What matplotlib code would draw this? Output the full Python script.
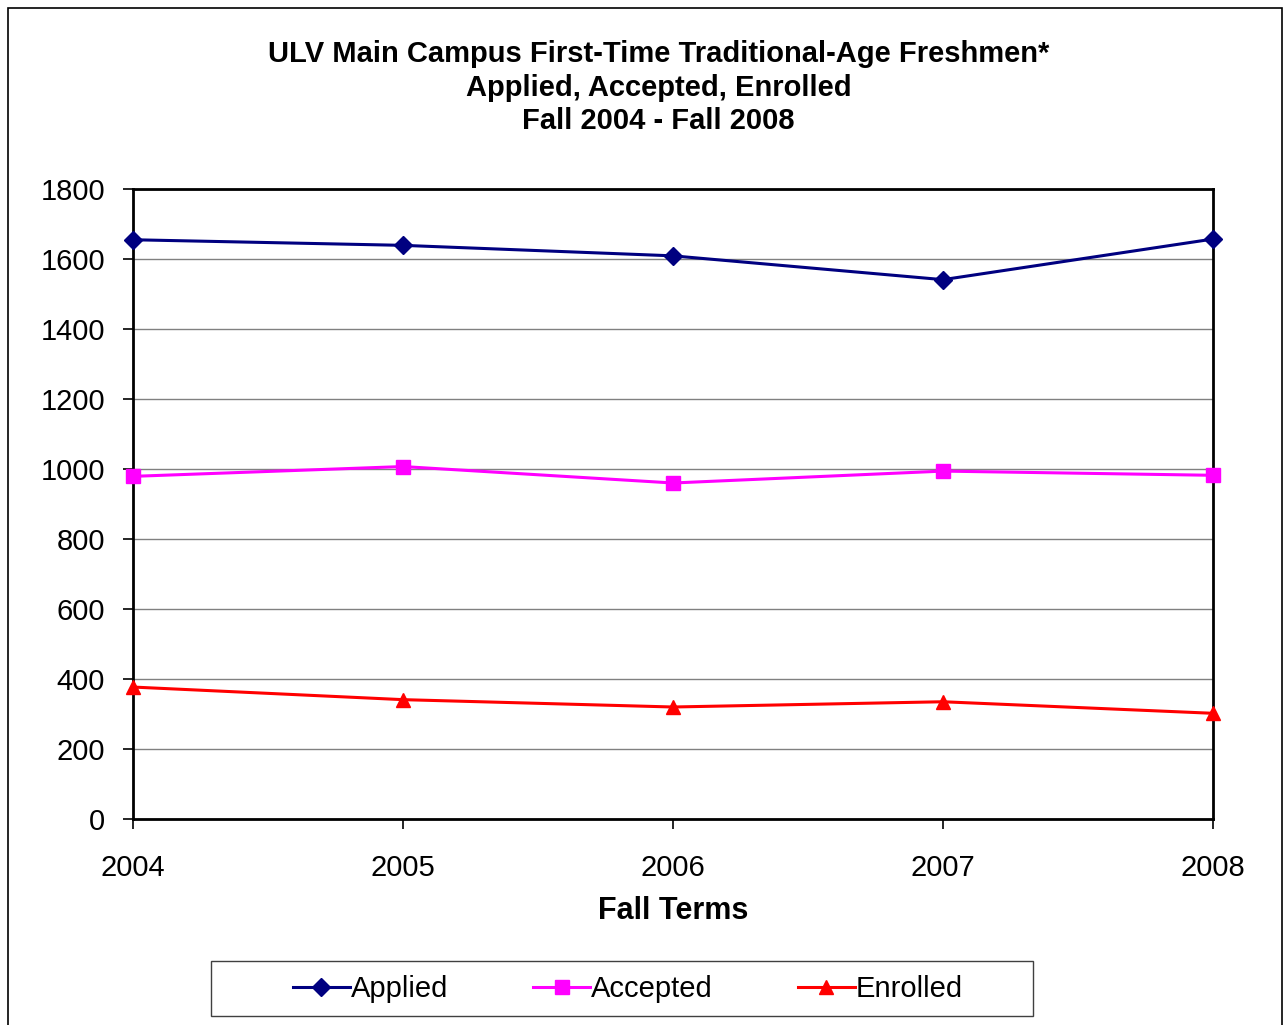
import matplotlib
matplotlib.use('Agg')
from matplotlib import pyplot as plt
from matplotlib.patches import Rectangle

plt.rcParams['font.family'] = ['Liberation Sans', 'DejaVu Sans']

years = ['2004', '2005', '2006', '2007', '2008']
applied = [1655, 1639, 1609, 1541, 1657]
accepted = [979, 1007, 960, 994, 982]
enrolled = [377, 341, 320, 335, 302]

W, H = 1286, 1025
fig = plt.figure(figsize=(W / 100, H / 100), dpi=100)
ax = fig.add_axes([133 / W, 1 - 819 / H, 1080 / W, 630 / H])

# outer chart frame
fig.patches.append(Rectangle((8 / W, -0.01), 1274 / W, 1.0 - 8 / H + 0.01,
                             transform=fig.transFigure, fill=False,
                             edgecolor='black', linewidth=1.2))
# legend frame
fig.patches.append(Rectangle((211 / W, 1 - 1016 / H), 822 / W, 55 / H,
                             transform=fig.transFigure, fill=False,
                             edgecolor='#404040', linewidth=1))

x = range(len(years))
ax.plot(x, applied, color='#000080', marker='D', markersize=9, linewidth=2.2,
        label='Applied', clip_on=False, zorder=3)
ax.plot(x, accepted, color='#FF00FF', marker='s', markersize=10, linewidth=2.2,
        label='Accepted', clip_on=False, zorder=3)
ax.plot(x, enrolled, color='#FF0000', marker='^', markersize=10, linewidth=2.2,
        label='Enrolled', clip_on=False, zorder=3)

ax.set_xlim(0, len(years) - 1)
ax.set_ylim(0, 1800)
ax.set_yticks(range(0, 1801, 200))
ax.set_xticks(list(x))
ax.set_xticklabels(years)
ax.grid(axis='y', color='#808080', linewidth=1)
ax.set_axisbelow(True)
ax.tick_params(axis='both', direction='out', length=7, width=1.2,
               labelsize=21, color='black')
ax.tick_params(axis='x', pad=18)
ax.tick_params(axis='y', pad=13)
for s in ax.spines.values():
    s.set_linewidth(2)
    s.set_color('black')

ax.set_xlabel('Fall Terms', fontsize=22, fontweight='bold', labelpad=10)
fig.text(0.512, 1 - 40 / H, 'ULV Main Campus First-Time Traditional-Age Freshmen*\n'
         'Applied, Accepted, Enrolled\nFall 2004 - Fall 2008',
         ha='center', va='top', fontsize=21, fontweight='bold', linespacing=1.26)

leg = fig.legend(loc='center', bbox_to_anchor=(628 / W, 1 - 989 / H),
                 ncol=3, fontsize=21, frameon=False,
                 handlelength=1.95, columnspacing=2.9,
                 handletextpad=0.05, borderpad=0.0)

fig.savefig('out.png', dpi=100)
